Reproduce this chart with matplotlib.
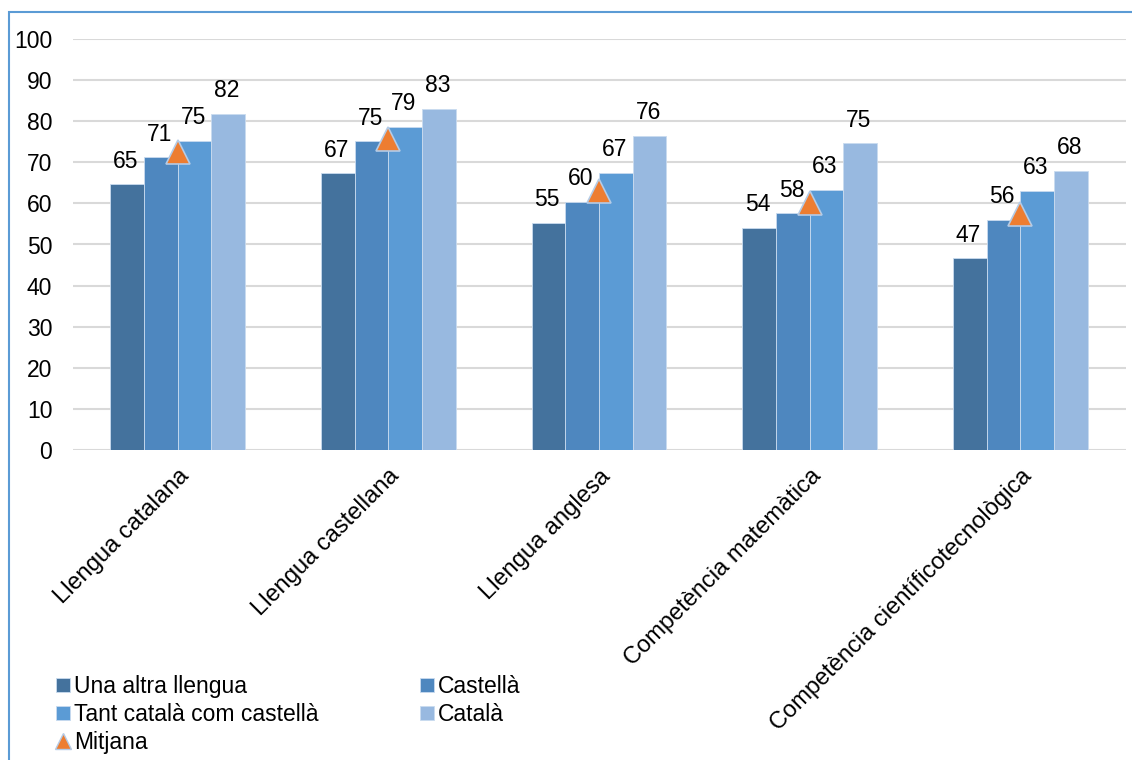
import matplotlib
matplotlib.use("Agg")
import matplotlib.pyplot as plt
import matplotlib.transforms as mtransforms
from matplotlib.patches import Rectangle
from matplotlib.lines import Line2D
import numpy as np

plt.rcParams['font.family'] = ['Liberation Sans', 'DejaVu Sans']

categories = ["Llengua catalana", "Llengua castellana", "Llengua anglesa",
              "Competència matemàtica", "Competència científicotecnològica"]
series_names = ["Una altra llengua", "Castellà", "Tant català com castellà", "Català"]
una_altra = [64.6, 67.3, 55.3, 54.1, 46.6]
castella = [71.2, 75.1, 60.4, 57.6, 56.0]
tant = [75.2, 78.7, 67.4, 63.3, 63.0]
catala = [81.8, 83.0, 76.4, 74.6, 67.9]
mitjana = [72.4, 75.7, 63.1, 60.2, 57.4]
yticks = [0, 10, 20, 30, 40, 50, 60, 70, 80, 90, 100]

colors = ["#44729d", "#4e87bf", "#5b9bd5", "#98b9e0"]
W, H = 1132, 760
fig = plt.figure(figsize=(W / 100, H / 100), dpi=100)
ax = fig.add_axes([72.5 / W, 1 - 450 / H, (1125.5 - 72.5) / W, (450 - 39) / H])

x = np.arange(len(categories))
w = 0.16
fs = 16.5
all_series = [una_altra, castella, tant, catala]
handles = []
for i, (vals, c, name) in enumerate(zip(all_series, colors, series_names)):
    pos = x + (i - 1.5) * w
    bars = ax.bar(pos, vals, width=w, color=c, edgecolor="#c9dbef", linewidth=0.6,
                  label=name, zorder=2)
    handles.append(bars)
    for xp, v in zip(pos, vals):
        ax.annotate(f"{v:.0f}", (xp, v), xytext=(-1, 12), textcoords="offset points",
                    ha="center", va="baseline", fontsize=fs, color="black")

tri = ax.plot(x, mitjana, linestyle="none", marker="^", markersize=17,
              markerfacecolor="#ed7d31", markeredgecolor="#b4cbe6",
              markeredgewidth=1.2, zorder=4, label="Mitjana")[0]

ax.set_xlim(-0.5, len(categories) - 0.5)
ax.set_ylim(0, 100)
ax.set_yticks(yticks)
ax.set_yticklabels([str(t) for t in yticks], fontsize=fs)
ax.set_xticks(x)
ax.set_xticklabels(categories, fontsize=17, rotation=45, ha="right",
                   rotation_mode="anchor")
shift = mtransforms.ScaledTranslation(-5 / 100, 0, fig.dpi_scale_trans)
for lbl in ax.get_xticklabels():
    lbl.set_transform(lbl.get_transform() + shift)
ax.tick_params(axis="both", length=0)
ax.tick_params(axis="y", pad=14.5)
ax.tick_params(axis="x", pad=11)
ax.grid(axis="y", color="#d9d9d9", linewidth=1.5, zorder=0)
ax.set_axisbelow(True)
for s in ax.spines.values():
    s.set_visible(False)

# legend
tri_handle = Line2D([], [], linestyle="none", marker="^", markersize=12,
                    markerfacecolor="#ed7d31", markeredgecolor="#b4cbe6")
leg_handles = [handles[0], handles[2], tri_handle, handles[1], handles[3]]
leg_labels = [series_names[0], series_names[2], "Mitjana", series_names[1], series_names[3]]
fig.legend(leg_handles, leg_labels, loc="upper left",
           bbox_to_anchor=(56 / W, 1 - 675 / H), ncol=2, frameon=False,
           fontsize=fs, handlelength=0.62, handleheight=0.62, handletextpad=0.18,
           labelspacing=0.22, columnspacing=4.4, borderpad=0, borderaxespad=0)

# chart frame
fig.patches.append(Rectangle((9 / W, -0.1), 1.2, 1 - 12 / H + 0.1,
                             transform=fig.transFigure, fill=False,
                             edgecolor="#5b9bd5", linewidth=1.5))

fig.savefig("out.png", dpi=100)
